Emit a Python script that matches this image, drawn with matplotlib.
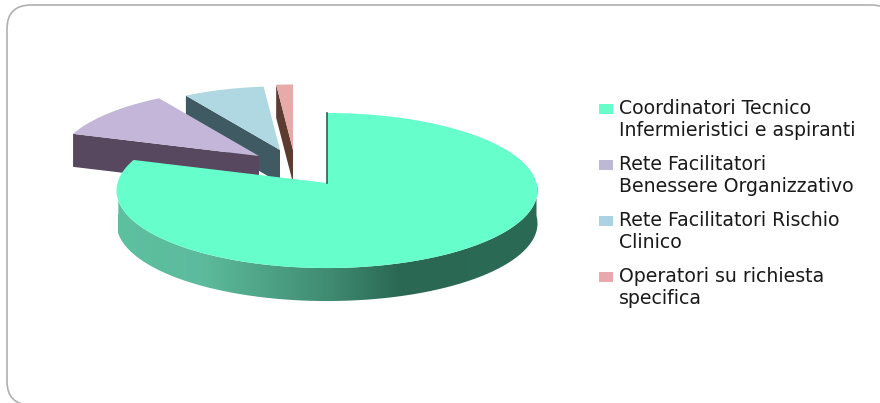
import numpy as np
import matplotlib
matplotlib.use("Agg")
import matplotlib.pyplot as plt
from matplotlib.patches import Polygon, Rectangle, FancyBboxPatch
from matplotlib.colors import LinearSegmentedColormap

categories = ["Coordinatori Tecnico\nInfermieristici e aspiranti",
              "Rete Facilitatori\nBenessere Organizzativo",
              "Rete Facilitatori Rischio\nClinico",
              "Operatori su richiesta\nspecifica"]
values = [80.0, 11.0, 7.5, 1.5]

top_colors = ["#66ffcc", "#c3b6d8", "#b0d8e2", "#e6aaa8"]
wall_colors = ["#2f5f50", "#57485f", "#3f5a62", "#5c3b30"]
legend_colors = ["#66ffcc", "#bdb8d6", "#acd3e4", "#e9a8ac"]

# pie layout in pixels
apex = [(327, 183), (259, 156), (280, 150), (293, 150)]
radius = [1.0, 0.96, 0.90, 0.93]
RX = 209.5
PERSP = -0.0968
RY = 76.8
DEPTH = 33


def project(theta, r=1.0):
    # theta in degrees, clockwise from 12 o'clock
    t = np.radians(theta)
    u = r * np.sin(t)
    v = -r * np.cos(t)
    den = 1 + PERSP * v
    return RX * u / den, RY * v / den


fig = plt.figure(figsize=(8.8, 4.03), dpi=100)
ax = fig.add_axes([0, 0, 1, 1])
ax.set_xlim(0, 880)
ax.set_ylim(403, 0)
ax.axis("off")

# rounded panel, right and bottom edges run off the canvas
frame = FancyBboxPatch((7, 5), 888, 400, boxstyle="round,pad=0,rounding_size=24",
                       fc="white", ec="#b0b0b0", lw=1.2)
ax.add_patch(frame)

edges = np.concatenate([[0], np.cumsum(values)]) * 3.6

# back slices first so the large one sits over them
for i in [3, 2, 1]:
    a0, a1 = edges[i], edges[i + 1]
    ax0, ay0 = apex[i]
    th = np.linspace(a0, a1, 60)
    px, py = project(th, radius[i])
    px = px + ax0
    py = py + ay0
    # cut face along the leading edge, going down by the depth
    wall = [(px[0], py[0]), (ax0, ay0), (ax0, ay0 + DEPTH), (px[0], py[0] + DEPTH)]
    ax.add_patch(Polygon(wall, closed=True, fc=wall_colors[i], ec="none", zorder=2 + (3 - i)))
    pts = np.column_stack([np.r_[ax0, px], np.r_[ay0, py]])
    ax.add_patch(Polygon(pts, closed=True, fc=top_colors[i], ec="none", zorder=2 + (3 - i)))

# large slice: side band with horizontal shading, then the top face
a0, a1 = edges[0], edges[1]
cx, cy = apex[0]
th = np.linspace(a0, a1, 400)
px, py = project(th)
px = px + cx
py = py + cy

front = np.linspace(90, min(a1, 272), 300)
fx, fy = project(front)
fx = fx + cx
fy = fy + cy
band = np.vstack([np.column_stack([fx, fy]),
                  np.column_stack([fx[::-1], fy[::-1] + DEPTH])])
shade = LinearSegmentedColormap.from_list(
    "side", [(0, "#5cc09f"), (0.2, "#5dbb9c"), (0.51, "#3f8a70"),
             (0.67, "#2b6853"), (1, "#2a6a55")])
img = ax.imshow(np.linspace(0, 1, 256)[None, :], cmap=shade, aspect="auto",
                extent=(118, 538, 403, 0), zorder=7)
clip = Polygon(band, closed=True, transform=ax.transData, fc="none", ec="none")
ax.add_patch(clip)
img.set_clip_path(clip)
ax.set_xlim(0, 880)
ax.set_ylim(403, 0)

pts = np.column_stack([np.r_[cx, px], np.r_[cy, py]])
ax.add_patch(Polygon(pts, closed=True, fc=top_colors[0], ec="none", zorder=8))
ax.plot([cx - 0.5, cx - 0.5], [py[0], cy], color=wall_colors[0], lw=1.2, zorder=9)

# legend
text_y = [(108, 131), (164, 186), (220, 243), (276, 298)]
for k, label in enumerate(categories):
    y1, y2 = text_y[k]
    ax.add_patch(Rectangle((599, y1 - 4), 14, 10, fc=legend_colors[k], ec="none"))
    for line, y in zip(label.split("\n"), (y1, y2)):
        ax.text(619, y, line, family="DejaVu Sans", fontsize=13.6, color="#1a1a1a",
                va="center", ha="left")

fig.savefig("out.png", dpi=100)
